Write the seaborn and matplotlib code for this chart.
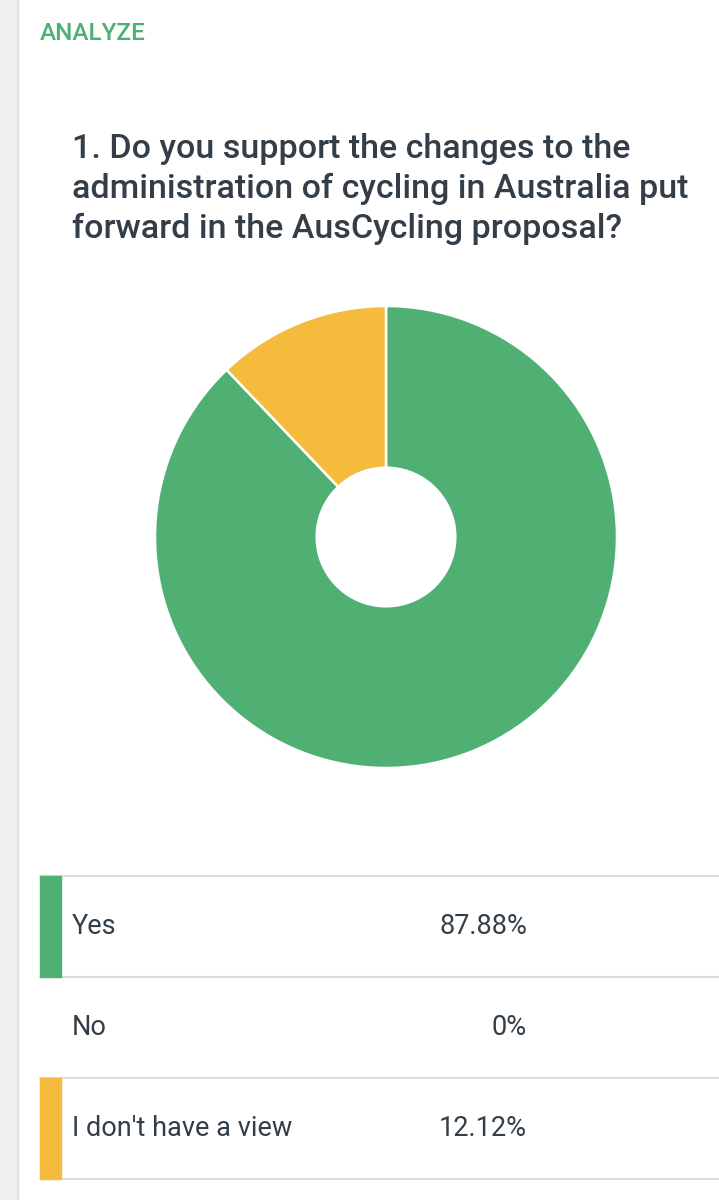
import matplotlib
matplotlib.use("Agg")
import matplotlib.pyplot as plt
import seaborn as sns

# --- Daten ---
answers = ["Yes", "No", "I don't have a view"]
shares = [87.88, 0.0, 12.12]
share_labels = ["87.88%", "0%", "12.12%"]
header = "ANALYZE"
question = ("1. Do you support the changes to the\n"
            "administration of cycling in Australia put\n"
            "forward in the AusCycling proposal?")

sns.set_theme(style="white")
plt.rcParams["font.family"] = ["Roboto", "DejaVu Sans"]

palette = {"Yes": "#50b074", "No": "#8bbbd9", "I don't have a view": "#f4bb3c"}
text_col = "#333e48"

W, H = 719, 1200
fig = plt.figure(figsize=(W / 100, H / 100), dpi=100)
fig.patch.set_facecolor("white")

# Hintergrund-Achse in Pixelkoordinaten
bg = fig.add_axes([0, 0, 1, 1])
bg.set_xlim(0, W)
bg.set_ylim(H, 0)
bg.axis("off")

# grauer Streifen links
bg.axvspan(0, 18, color="#f0f0f0", zorder=0)
bg.axvline(18, color="#e2e2e2", lw=1.5, zorder=1)

bg.text(40, 33, header, color="#4caf74", fontsize=17.5, fontweight="medium",
        va="center", ha="left")
bg.text(72, 189, question, color=text_col, fontsize=24.5, fontweight="medium",
        va="center", ha="left", linespacing=1.3)

# --- Donut ---
pie_ax = fig.add_axes([155 / W, (H - 768) / H, 462 / W, 462 / H])
nonzero = [(a, s) for a, s in zip(answers, shares) if s > 0]
pie_ax.pie([s for _, s in nonzero],
           colors=[palette[a] for a, _ in nonzero],
           startangle=90, counterclock=False, radius=1,
           wedgeprops=dict(width=0.70, edgecolor="white", linewidth=1.8))
pie_ax.set_xlim(-1, 1)
pie_ax.set_ylim(-1, 1)
pie_ax.set_aspect("equal")

# --- Tabelle ---
row_top = 876
row_h = 101
for i, (ans, lab, s) in enumerate(zip(answers, share_labels, shares)):
    y0 = row_top + i * row_h
    yc = y0 + row_h / 2
    bg.plot([40, W], [y0, y0], color="#dcdcdc", lw=1.5, zorder=1)
    if s > 0:
        bg.add_patch(plt.Rectangle((40, y0), 21, row_h, color=palette[ans], zorder=2))
    bg.text(72, yc, ans, color=text_col, fontsize=19.5, va="center", ha="left")
    bg.text(527, yc, lab, color=text_col, fontsize=19.5, va="center", ha="right")
bg.plot([40, W], [row_top + 3 * row_h] * 2, color="#dcdcdc", lw=1.5, zorder=1)

fig.savefig("out.png", dpi=100)
